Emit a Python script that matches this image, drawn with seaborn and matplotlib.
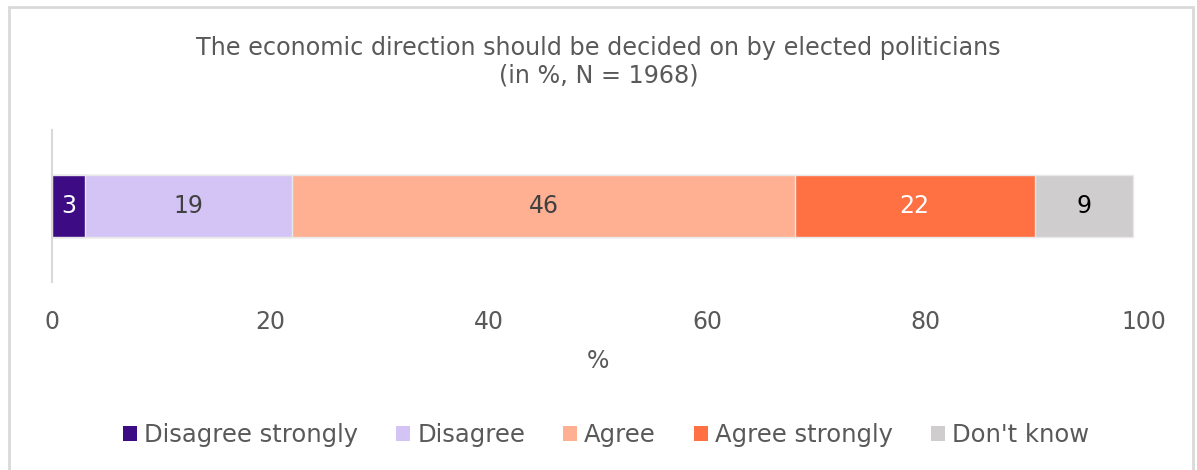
import matplotlib
matplotlib.use("Agg")
import matplotlib.pyplot as plt
from matplotlib.patches import Rectangle, Patch
import numpy as np
import pandas as pd
import seaborn as sns

categories = ["Disagree strongly", "Disagree", "Agree", "Agree strongly", "Don't know"]
values = [3, 19, 46, 22, 9]
colors = ["#3D0C85", "#D4C4F5", "#FFB093", "#FF7043", "#D0CDCE"]
label_colors = ["white", "#404040", "#404040", "white", "black"]
title_text = "The economic direction should be decided on by elected politicians\n(in %, N = 1968)"
x_ticks = [0, 20, 40, 60, 80, 100]

sns.set_theme(style="white")
plt.rcParams["font.family"] = ["DejaVu Sans"]
text_grey = "#595959"

fig = plt.figure(figsize=(11.97, 4.70), dpi=100)
ax = fig.add_axes([52 / 1197, 1 - 282 / 470, (1144 - 52) / 1197, 152 / 470])

# outer frame of the chart
fig.patches.append(Rectangle((9 / 1197, -0.05), (1193 - 9) / 1197, 1.05 - 7 / 470,
                             transform=fig.transFigure, fill=False,
                             edgecolor="#D9D9D9", linewidth=2))

cum = np.cumsum(values)
df = pd.DataFrame({"row": ["all"] * len(values), "cum": cum, "cat": categories})

# stacked bar: draw cumulative totals from the largest down so each segment shows
for i in range(len(values) - 1, -1, -1):
    sns.barplot(data=df.iloc[[i]], x="cum", y="row", orient="h", color=colors[i],
                saturation=1, width=0.62, edgecolor="#E8E8E8", linewidth=1, ax=ax)

for i, v in enumerate(values):
    ax.text(cum[i] - v / 2, 0, str(v), ha="center", va="center",
            color=label_colors[i], fontsize=17)

ax.set_xlim(0, 100)
ax.set_ylim(0.76, -0.76)
ax.set_xticks(x_ticks)
ax.set_xticklabels([str(t) for t in x_ticks], fontsize=17, color=text_grey)
ax.tick_params(axis="x", length=0, pad=20)
ax.set_yticks([])
ax.set_ylabel("")
ax.set_xlabel("%", fontsize=17, color=text_grey, labelpad=11)
for s in ["top", "right", "bottom"]:
    ax.spines[s].set_visible(False)
ax.spines["left"].set_color("#D9D9D9")
ax.spines["left"].set_linewidth(1.5)

fig.text(0.5, 1 - 62 / 470, title_text, ha="center", va="center",
         fontsize=17.2, color=text_grey, linespacing=1.2)

handles = [Patch(facecolor=c, edgecolor="none") for c in colors]
fig.legend(handles, categories, loc="center", bbox_to_anchor=(606 / 1197, 1 - 435 / 470),
           ncol=5, frameon=False, fontsize=17.5, labelcolor=text_grey,
           handlelength=0.58, handleheight=0.58, handletextpad=0.3, columnspacing=1.55)

fig.savefig("out.png", dpi=100, facecolor="white")
